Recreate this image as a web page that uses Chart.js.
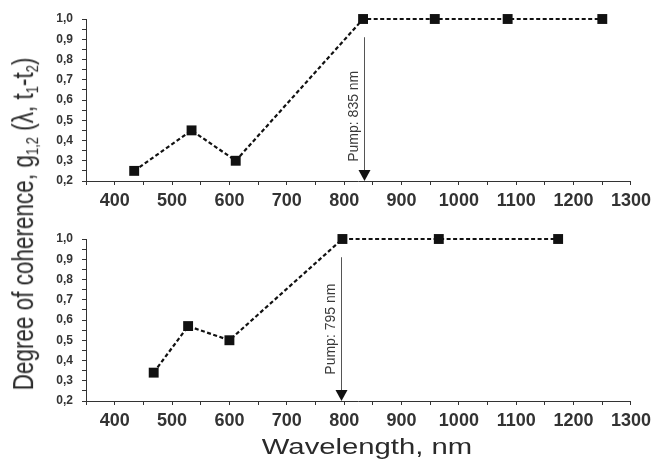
<!DOCTYPE html>
<html>
<head>
<meta charset="utf-8">
<script src="https://cdn.jsdelivr.net/npm/chart.js@4"></script>
<style>
  body { margin: 0; background: #fff; width: 656px; height: 462px; position: relative; overflow: hidden; font-family: "Liberation Sans", Arial, sans-serif; }
  .panel { position: absolute; left: 0; width: 656px; height: 215px; }
  #ytitle { position: absolute; left: 24px; top: 224px; white-space: nowrap; font-size: 22.5px; color: #2a2a2a;
            transform: translate(-50%, -50%) rotate(-90deg) scaleY(1.3); }
  #ytitle sub { font-size: 13px; vertical-align: -4px; line-height: 0; }
  #xtitle { position: absolute; left: 367px; top: 447px; white-space: nowrap; font-size: 22px; color: #2a2a2a;
            transform: translate(-50%, -50%) scaleX(1.33); }
</style>
</head>
<body>
<div class="panel" style="top:0"><canvas id="top" width="656" height="215"></canvas></div>
<div class="panel" style="top:220px"><canvas id="bottom" width="656" height="215"></canvas></div>
<div id="ytitle">Degree of coherence, g<sub>1,2</sub> (λ, t<sub>1</sub>-t<sub>2</sub>)</div>
<div id="xtitle">Wavelength, nm</div>
<script>
// === DONNEES ===
const lambdaHaut = [434, 534, 611, 833, 958, 1085, 1250];
const gHaut = [0.25, 0.45, 0.30, 1.0, 1.0, 1.0, 1.0];
const pompeHaut = 835;

const lambdaBas = [468, 528, 600, 797, 965, 1173];
const gBas = [0.34, 0.57, 0.50, 1.0, 1.0, 1.0];
const pompeBas = 795;

const xMin = 350, xMax = 1300, xPas = 50;
const yMin = 0.2, yMax = 1.0, yPas = 0.05;

const police = '"Liberation Sans", Arial, sans-serif';
const gris = "#333";

// Fleche "Pump" (ligne verticale + pointe + texte)
const flechePompe = {
  id: "flechePompe",
  afterDatasetsDraw(chart, args, opts) {
    const { ctx, scales: { x, y } } = chart;
    const px = Math.round(x.getPixelForValue(opts.lambda)) + 0.5;
    const yHaut = y.getPixelForValue(0.91);
    const yBas = y.getPixelForValue(yMin);
    ctx.save();
    ctx.strokeStyle = "#555";
    ctx.lineWidth = 1;
    ctx.beginPath();
    ctx.moveTo(px, yHaut);
    ctx.lineTo(px, yBas - 10);
    ctx.stroke();
    ctx.fillStyle = "#111";
    ctx.beginPath();
    ctx.moveTo(px - 6, yBas - 11);
    ctx.lineTo(px + 6, yBas - 11);
    ctx.lineTo(px, yBas);
    ctx.closePath();
    ctx.fill();
    // texte tourne
    ctx.translate(px - 10, y.getPixelForValue(opts.texteDebut));
    ctx.rotate(-Math.PI / 2);
    ctx.fillStyle = "#3a3a3a";
    ctx.font = `14px ${police}`;
    ctx.textAlign = "left";
    ctx.textBaseline = "middle";
    ctx.fillText(`Pump: ${opts.lambda} nm`, 0, 0);
    ctx.restore();
  }
};

function graphe(id, xs, ys, pompe, texteDebut) {
  new Chart(document.getElementById(id), {
    type: "line",
    data: {
      datasets: [{
        data: xs.map((v, i) => ({ x: v, y: ys[i] })),
        borderColor: "#111",
        borderWidth: 2.2,
        borderDash: [4, 2.5],
        pointStyle: "rect",
        pointRadius: 7,
        pointHoverRadius: 7,
        pointBackgroundColor: "#111",
        pointBorderColor: "#222",
        pointBorderWidth: 0,
        fill: false,
        tension: 0,
        clip: false
      }]
    },
    options: {
      responsive: false,
      animation: false,
      events: [],
      layout: { padding: { left: 0, right: 25, top: 19, bottom: 0 } },
      plugins: {
        legend: { display: false },
        tooltip: { enabled: false },
        flechePompe: { lambda: pompe, texteDebut }
      },
      scales: {
        x: {
          type: "linear",
          min: xMin, max: xMax,
          afterFit: s => { s.height = 34; },
          border: { display: true, color: gris, width: 1 },
          grid: { drawOnChartArea: false, drawTicks: true, tickLength: 4, tickColor: gris },
          ticks: {
            stepSize: xPas,
            autoSkip: false,
            maxRotation: 0,
            padding: 5,
            color: "#333",
            font: { family: police, size: 18, weight: "bold" },
            callback: v => (v % 100 === 0 ? String(v) : "")
          }
        },
        y: {
          min: yMin, max: yMax,
          afterFit: s => { s.width = 86; },
          border: { display: true, color: gris, width: 1 },
          grid: { drawOnChartArea: false, drawTicks: true, tickLength: 4, tickColor: gris },
          ticks: {
            stepSize: yPas,
            autoSkip: false,
            padding: 9,
            color: "#333",
            font: { family: police, size: 12, weight: "bold" },
            callback: v => (Math.round(v * 100) % 10 === 0 ? v.toFixed(1).replace(".", ",") : "")
          }
        }
      }
    },
    plugins: [flechePompe]
  });
}

graphe("top", lambdaHaut, gHaut, pompeHaut, 0.295);
graphe("bottom", lambdaBas, gBas, pompeBas, 0.33);
</script>
</body>
</html>
